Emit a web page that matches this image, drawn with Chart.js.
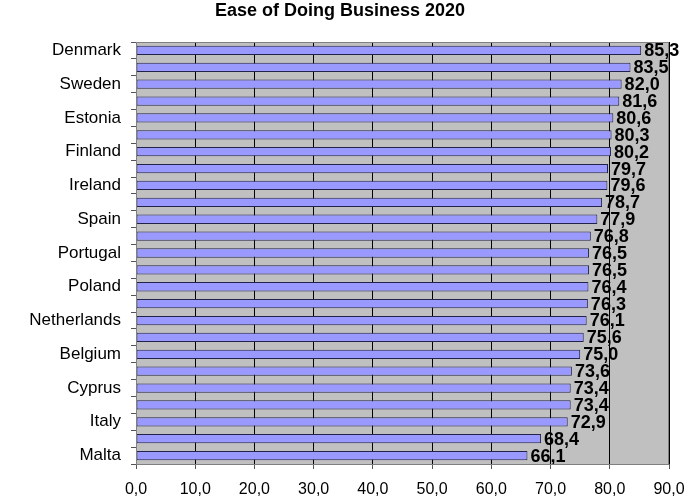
<!DOCTYPE html>
<html>
<head>
<meta charset="utf-8">
<script src="https://cdn.jsdelivr.net/npm/chart.js@4"></script>
<style>
  html, body { margin: 0; padding: 0; background: #fff; }
  #wrap { width: 700px; height: 500px; position: relative; }
</style>
</head>
<body>
<div id="wrap"><canvas id="ease"></canvas></div>
<script>
/* ── Data ─────────────────────────────────────────────────── */
const countries = [
    'Denmark', 'United Kingdom', 'Sweden', 'Lithuania', 'Estonia',
    'Latvia', 'Finland', 'Germany', 'Ireland', 'Austria',
    'Spain', 'France', 'Portugal', 'Slovenia', 'Poland',
    'Czech Republic', 'Netherlands', 'Slovakia', 'Belgium', 'Croatia',
    'Cyprus', 'Hungary', 'Italy', 'Greece', 'Malta',
];
const scores = [
    85.3, 83.5, 82.0, 81.6, 80.6,
    80.3, 80.2, 79.7, 79.6, 78.7,
    77.9, 76.8, 76.5, 76.5, 76.4,
    76.3, 76.1, 75.6, 75.0, 73.6,
    73.4, 73.4, 72.9, 68.4, 66.1,
];
const xTicks = [0, 10, 20, 30, 40, 50, 60, 70, 80, 90];

const fmt = v => v.toFixed(1).replace('.', ',');
const FONT = 'Arial, "Liberation Sans", sans-serif';

/* ── Plot background + border ─────────────────────────────── */
const plotArea = {
    id: 'plotArea',
    beforeDraw(chart) {
        const { ctx, chartArea: a } = chart;
        ctx.save();
        ctx.fillStyle = '#c0c0c0';
        ctx.fillRect(a.left, a.top, a.right - a.left, a.bottom - a.top);
        ctx.restore();
    },
    afterDraw(chart) {
        const { ctx, chartArea: a } = chart;
        ctx.save();
        ctx.strokeStyle = '#808080';
        ctx.lineWidth = 1;
        ctx.strokeRect(a.left + 0.5, a.top + 0.5, a.right - a.left - 1, a.bottom - a.top);
        ctx.restore();
    },
};

/* ── Value labels at bar ends ─────────────────────────────── */
const valueLabels = {
    id: 'valueLabels',
    afterDatasetsDraw(chart) {
        const { ctx } = chart;
        const meta = chart.getDatasetMeta(0);
        ctx.save();
        ctx.font = 'bold 18px ' + FONT;
        ctx.fillStyle = '#000';
        ctx.textAlign = 'left';
        ctx.textBaseline = 'middle';
        meta.data.forEach((bar, i) => {
            ctx.fillText(fmt(scores[i]), bar.x + 3, bar.y + 1);
        });
        ctx.restore();
    },
};

new Chart(document.getElementById('ease'), {
    type: 'bar',
    data: {
        labels: countries,
        datasets: [{
            data: scores,
            backgroundColor: '#9999ff',
            borderColor: '#22224a',
            borderWidth: 1,
            borderSkipped: false,
            barPercentage: 0.55,
            categoryPercentage: 1,
        }],
    },
    options: {
        indexAxis: 'y',
        responsive: true,
        maintainAspectRatio: false,
        animation: false,
        layout: { padding: { top: 0, right: 31, bottom: 0, left: 11 } },
        plugins: {
            legend: { display: false },
            tooltip: { enabled: false },
            title: {
                display: true,
                text: 'Ease of Doing Business 2020',
                color: '#000',
                font: { family: FONT, size: 18, weight: 'bold' },
                padding: { top: 0, bottom: 20.4 },
            },
        },
        scales: {
            x: {
                min: 0,
                max: 90,
                afterBuildTicks: s => { s.ticks = xTicks.map(v => ({ value: v })); },
                afterFit: s => { s.height = 36; },
                ticks: {
                    color: '#000',
                    font: { family: FONT, size: 16 },
                    padding: 11,
                    maxRotation: 0,
                    callback: v => fmt(v),
                },
                grid: { color: '#000', lineWidth: 1, tickLength: 5, tickColor: '#555' },
                border: { color: '#555' },
            },
            y: {
                afterFit: s => { s.width = 125; },
                ticks: {
                    autoSkip: false,
                    color: '#000',
                    font: { family: FONT, size: 17 },
                    padding: 10,
                    callback: (v, i) => (i % 2 === 0 ? countries[i] : ''),
                },
                grid: { drawOnChartArea: false, tickLength: 5, color: '#555', offset: true },
                border: { color: '#555' },
            },
        },
    },
    plugins: [plotArea, valueLabels],
});
</script>
</body>
</html>
